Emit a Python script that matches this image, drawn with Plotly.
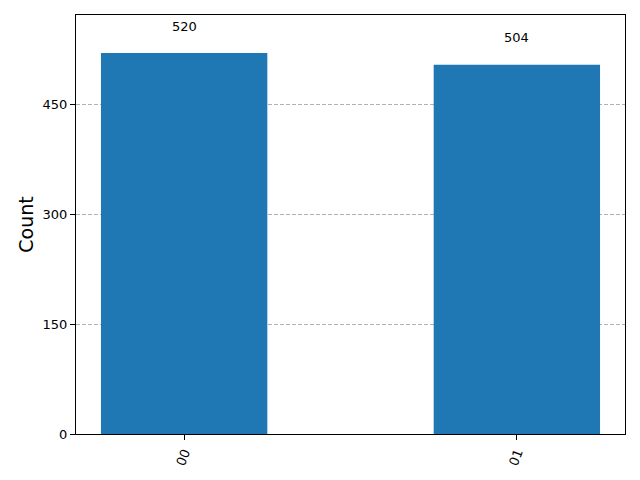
import plotly.graph_objects as go

states = ["00", "01"]
counts = [520, 504]
y_ticks = [0, 150, 300, 450]

fig = go.Figure()

fig.add_trace(go.Bar(
    x=[0, 1],
    y=counts,
    width=0.5,
    marker=dict(color="#1f77b4", line=dict(width=0)),
    showlegend=False,
))

# count labels above bars
for i, c in enumerate(counts):
    fig.add_annotation(x=i, y=c, text=str(c), showarrow=False,
                       yshift=27, font=dict(size=13, color="black"))

fig.update_layout(
    width=640, height=480,
    margin=dict(l=76, r=15, t=15, b=46),
    plot_bgcolor="white",
    paper_bgcolor="white",
    font=dict(family="DejaVu Sans", size=13, color="black"),
)

fig.update_xaxes(
    range=[-0.325, 1.325],
    tickvals=[0, 1],
    ticktext=states,
    tickangle=-70,
    ticks="outside", ticklen=5, tickcolor="black",
    showline=True, linecolor="black", linewidth=1, mirror=True,
    showgrid=False, zeroline=False,
)

fig.update_yaxes(
    range=[0, 572],
    tickvals=y_ticks,
    ticks="outside", ticklen=5, tickcolor="black",
    showline=True, linecolor="black", linewidth=1, mirror=True,
    showgrid=True, gridcolor="#b0b0b0", griddash="4px,2px", gridwidth=1,
    zeroline=False,
    title=dict(text="Count", font=dict(size=19), standoff=3),
)

# drop the default page margin so the figure sits at the window origin
fig.write_html("out.html", config={"displayModeBar": False},
               post_script="document.body.style.margin='0';")
